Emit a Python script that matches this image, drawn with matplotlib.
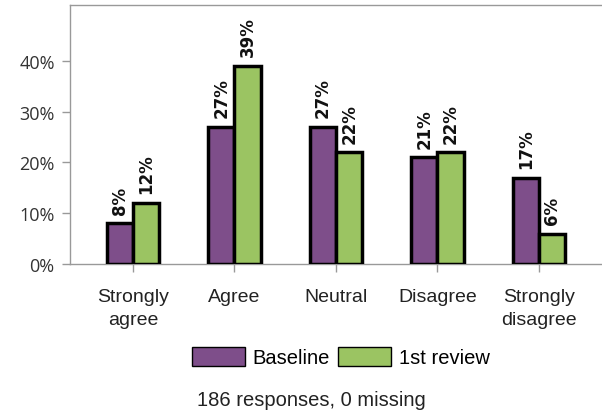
import matplotlib
matplotlib.use("Agg")
import matplotlib.pyplot as plt
import numpy as np
from matplotlib.patches import Patch

categories = ["Strongly\nagree", "Agree", "Neutral", "Disagree", "Strongly\ndisagree"]
baseline = [8, 27, 27, 21, 17]
review1 = [12, 39, 22, 22, 6]
series_names = ["Baseline", "1st review"]
colors = ["#7e4e8a", "#9bc462"]
yticks = [0, 10, 20, 30, 40]
ytick_labels = ["0%", "10%", "20%", "30%", "40%"]
footer = "186 responses, 0 missing"

fig = plt.figure(figsize=(6.02, 4.14), dpi=100)
ax = fig.add_axes([70/602, 1-265/414, 1.0-70/602 + 0.01, (265-6)/414])

x = np.arange(len(categories))
w = 0.26
for vals, off, c in [(baseline, -w/2, colors[0]), (review1, w/2, colors[1])]:
    bars = ax.bar(x + off, vals, width=w, color=c, edgecolor="black", linewidth=2.5, zorder=3)
    for b, v in zip(bars, vals):
        ax.annotate(f"{v}%", (b.get_x() + b.get_width()/2, v), xytext=(0, 7),
                    textcoords="offset points", rotation=90, ha="center", va="bottom",
                    fontsize=12, fontweight="bold", family="DejaVu Sans", color="#111")

ax.set_xlim(-0.62, 4.68)
ax.set_ylim(0, 51)
ax.set_yticks(yticks)
ax.set_yticklabels(ytick_labels, fontsize=13, color="#333", family="Open Sans")
ax.set_xticks(x)
ax.set_xticklabels(categories, fontsize=14, color="#222", family="Liberation Sans", linespacing=1.5)
for s in ["left", "top", "bottom"]:
    ax.spines[s].set_color("#999")
    ax.spines[s].set_linewidth(1.0)
ax.spines["right"].set_visible(False)
ax.tick_params(axis="both", colors="#999", length=6, width=1)
ax.tick_params(axis="y", labelcolor="#333", pad=5)
ax.tick_params(axis="x", labelcolor="#222", pad=11)

handles = [Patch(facecolor=colors[0], edgecolor="black", linewidth=1),
           Patch(facecolor=colors[1], edgecolor="black", linewidth=1)]
fig.legend(handles, series_names, loc="center", bbox_to_anchor=(341/602, 1-358/414),
           ncol=2, frameon=False, prop={"family": "Liberation Sans", "size": 14.5},
           handlelength=2.6, handleheight=1.05, columnspacing=0.4, handletextpad=0.4,
           borderpad=0, borderaxespad=0)
fig.text(197/602, 1-401/414, footer, ha="left", va="center", fontsize=14.5,
         family="Liberation Sans", color="#222")

fig.savefig("out.png", dpi=100)
